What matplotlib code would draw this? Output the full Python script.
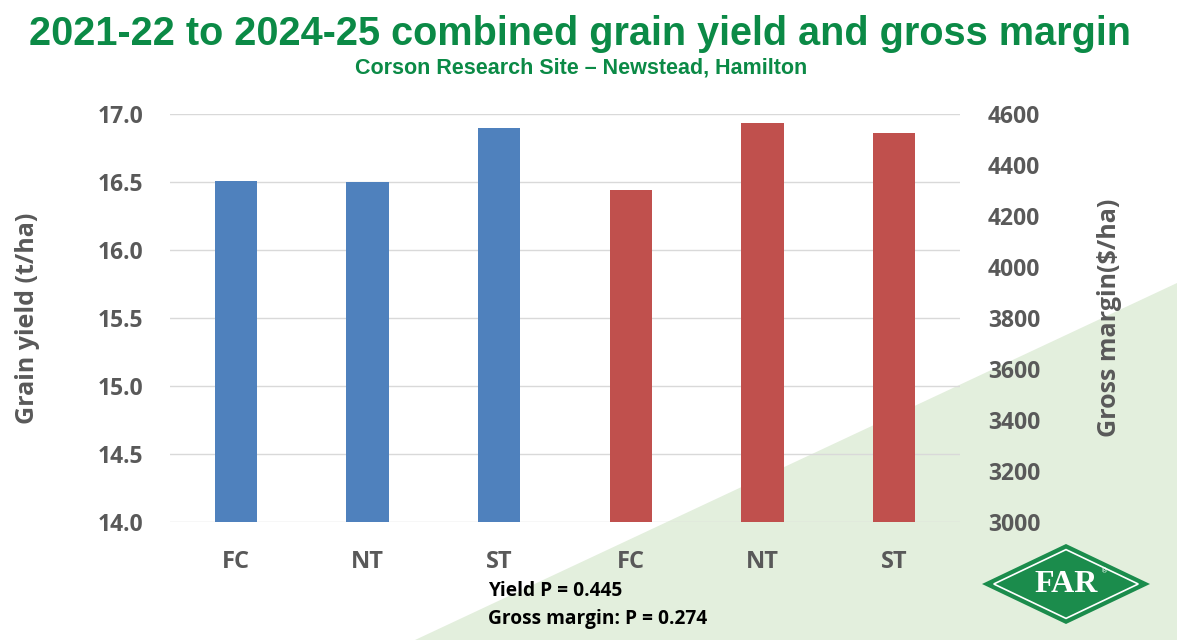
import matplotlib
matplotlib.use("Agg")
import matplotlib.pyplot as plt
from matplotlib.patches import Polygon
import numpy as np

# data
categories = ["FC", "NT", "ST", "FC", "NT", "ST"]
yield_vals = [16.51, 16.50, 16.90]          # t/ha, first three bars
margin_vals = [4302, 4565, 4525]            # $/ha, last three bars
yield_ticks = [14.0, 14.5, 15.0, 15.5, 16.0, 16.5, 17.0]
margin_ticks = [3000, 3200, 3400, 3600, 3800, 4000, 4200, 4400, 4600]

grey = "#595959"
green = "#0b8a46"
tick_font = "Open Sans"

fig = plt.figure(figsize=(11.77, 6.4), dpi=100)

# light green triangle in the lower right of the slide
bg = Polygon([(415 / 1177, 0), (1, 0), (1, 1 - 283 / 640)], closed=True,
             transform=fig.transFigure, facecolor="#e3efdd", edgecolor="none", zorder=-5)
fig.patches.append(bg)

ax = fig.add_axes([170 / 1177, 1 - 522 / 640, 790 / 1177, 408 / 640])
ax.set_facecolor("none")
ax2 = ax.twinx()
ax2.set_facecolor("none")

x = np.arange(len(categories))
w = 0.32
ax.bar(x[:3], yield_vals, width=w, color="#4f81bd", zorder=3)
ax2.bar(x[3:], margin_vals, width=w, color="#c0504d", zorder=3)

ax.set_xlim(-0.5, 5.5)
ax.set_ylim(14.0, 17.0)
ax2.set_ylim(3000, 4600)
ax.set_yticks(yield_ticks)
ax.set_yticklabels([f"{t:.1f}" for t in yield_ticks])
ax2.set_yticks(margin_ticks)
ax2.set_xticks(x)
ax.set_xticks(x)
ax.set_xticklabels(categories)
ax.yaxis.grid(True, color="#d9d9d9", linewidth=1, zorder=0)
ax.set_axisbelow(True)

for a in (ax, ax2):
    for s in a.spines.values():
        s.set_visible(False)
    a.tick_params(length=0, colors=grey, labelsize=16.5)
    for lab in a.get_yticklabels() + a.get_xticklabels():
        lab.set_fontfamily(tick_font)
        lab.set_fontweight("bold")
ax.tick_params(axis="y", pad=19)
ax2.tick_params(axis="y", pad=20)
ax.tick_params(axis="x", pad=20, labelsize=17)

ax.set_ylabel("Grain yield (t/ha)", fontsize=18, color=grey, fontfamily=tick_font,
              fontweight="bold", labelpad=42)
ax2.set_ylabel("Gross margin($/ha)", fontsize=18, color=grey, fontfamily=tick_font,
               fontweight="bold", labelpad=41)

fig.text(0.493, 1 - 34 / 640, "2021-22 to 2024-25 combined grain yield and gross margin",
         ha="center", va="center", fontsize=28.5, color=green,
         fontfamily="Liberation Sans", fontweight="bold")
fig.text(0.494, 1 - 68 / 640, "Corson Research Site \u2013 Newstead, Hamilton",
         ha="center", va="center", fontsize=15.5, color=green,
         fontfamily="Liberation Sans", fontweight="bold")

fig.text(488 / 1177, 1 - 591 / 640, "Yield P = 0.445", ha="left", va="center",
         fontsize=13.8, color="black", fontfamily=tick_font, fontweight="bold")
fig.text(488 / 1177, 1 - 619 / 640, "Gross margin: P = 0.274", ha="left", va="center",
         fontsize=13.8, color="black", fontfamily=tick_font, fontweight="bold")

# FAR logo: green diamond with white inner outline
cx, cy = 1066 / 1177, 1 - 584 / 640
hw, hh = 84 / 1177, 40 / 640
fig.patches.append(Polygon([(cx - hw, cy), (cx, cy + hh), (cx + hw, cy), (cx, cy - hh)],
                           closed=True, transform=fig.transFigure,
                           facecolor="#1b8c4c", edgecolor="none", zorder=2))
k = 0.86
fig.patches.append(Polygon([(cx - hw * k, cy), (cx, cy + hh * k), (cx + hw * k, cy), (cx, cy - hh * k)],
                           closed=True, transform=fig.transFigure,
                           facecolor="none", edgecolor="white", linewidth=1.2, zorder=3))
fig.text(cx, cy, "FAR", ha="center", va="center", fontsize=23, color="white",
         fontfamily="Liberation Serif", fontweight="bold", zorder=4)
fig.text(cx + 39 / 1177, cy + 13 / 640, "\u00ae", ha="center", va="center", fontsize=5,
         color="white", zorder=4)

fig.savefig("out.png", dpi=100)
